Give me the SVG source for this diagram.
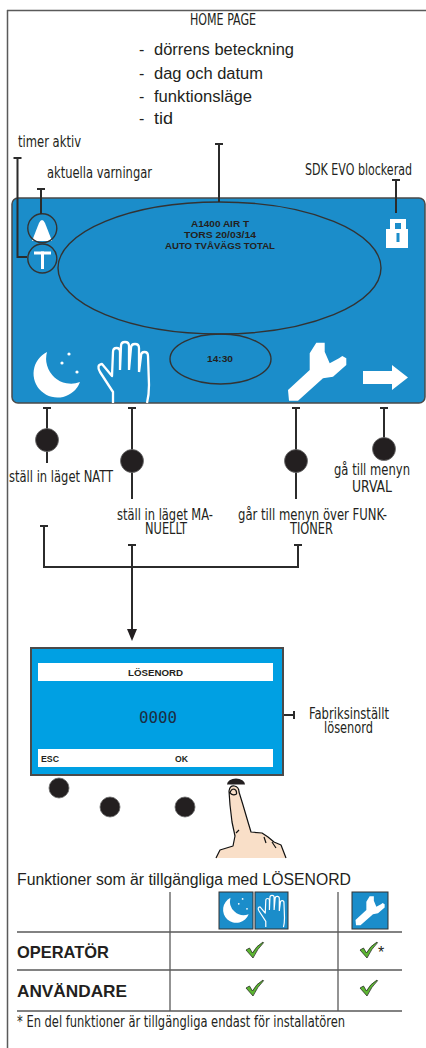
<svg xmlns="http://www.w3.org/2000/svg" width="426" height="1048" viewBox="0 0 426 1048">
  <style>
    .lbl { font-family: "Liberation Sans Narrow", "DejaVu Sans Condensed", "Liberation Sans", sans-serif; font-stretch: condensed; font-size: 15px; fill: #231f20; }
    .reg { font-family: "Liberation Sans", "Open Sans", sans-serif; font-size: 16px; fill: #231f20; }
    .bold { font-family: "Liberation Sans", "Open Sans", sans-serif; font-weight: bold; fill: #231f20; }
    .lcd { font-family: "Liberation Sans", sans-serif; font-weight: bold; font-size: 9px; fill: #231f20; }
    .wire { stroke: #2b2b2b; stroke-width: 2; fill: none; }
    .grid { stroke: #5a5a5a; stroke-width: 1.3; fill: none; }
    .dot { fill: #231f20; stroke: #6a6a6a; stroke-width: 0.8; }
    .ring { fill: none; stroke: #333; stroke-width: 1.4; }
    .iconbox { fill: #1b8dca; stroke: #333; stroke-width: 1; }
    .check { fill: #5cb531; stroke: #1a1a1a; stroke-width: 0.7; stroke-linejoin: round; }
  </style>
  <defs>
    <!-- crescent moon with three stars, drawn around (57,376) -->
    <g id="moon" fill="#fff">
      <path d="M47,352 A24,24 0 1 0 80,382 A25,25 0 0 1 47,352 Z"/>
      <circle cx="69" cy="354" r="1.6"/>
      <circle cx="62" cy="363" r="1.6"/>
      <circle cx="77" cy="372" r="1.6"/>
    </g>
    <!-- open hand outline -->
    <path id="hand" fill="none" stroke="#fff" stroke-width="2.3" stroke-linejoin="round"
      d="M113,403 L113,392 L100,372 Q96,365 102,364 L112,376 L113,352 Q113,348 116.5,348 Q120,348 120,352 L120,370 M120,370 L121,346 Q121,342 125,342 Q129,342 129,346 L129,370 M129,370 L131,348 Q131,344 135,344 Q139,344 139,348 L139,372 M139,372 L141,356 Q141,352 144.5,352 Q148,352 148,356 L149,385 Q149,395 147,403"/>
    <!-- wrench -->
    <polygon id="wrench" fill="#fff"
      points="316.3,342.7 324.7,342.7 324.7,351.7 329.7,363.3 339,358.3 342.3,356 346.3,358.3 346.3,365 333,376.7 323,378.3 298,400.7 289,400.7 288,390 309.7,370 309.7,353.3"/>
    <path id="chk" d="M0,8 L3.5,6 L6.5,11 Q10,4 17,0 L17.5,0.8 Q11.5,6.5 7,16 Z"/>
  </defs>

  <!-- page frame -->
  <path d="M7,10.5 H426 M7.5,10 V1048" stroke="#5a5a5a" stroke-width="1.5" fill="none"/>

  <!-- title and content list -->
  <g id="home-title">
    <text class="lbl" x="190" y="25" textLength="66" lengthAdjust="spacingAndGlyphs">HOME PAGE</text>
  </g>
  <g id="home-contents">
    <text class="reg" x="139" y="55">-</text>
    <text class="reg" x="154" y="55" textLength="140" lengthAdjust="spacingAndGlyphs">dörrens beteckning</text>
    <text class="reg" x="139" y="79">-</text>
    <text class="reg" x="154" y="79" textLength="109" lengthAdjust="spacingAndGlyphs">dag och datum</text>
    <text class="reg" x="139" y="102">-</text>
    <text class="reg" x="154" y="102" textLength="98" lengthAdjust="spacingAndGlyphs">funktionsläge</text>
    <text class="reg" x="139" y="124">-</text>
    <text class="reg" x="154" y="124" textLength="19" lengthAdjust="spacingAndGlyphs">tid</text>
  </g>

  <!-- callout labels above the display -->
  <g id="label-timer">
    <text class="lbl" x="18" y="147" textLength="63" lengthAdjust="spacingAndGlyphs">timer aktiv</text>
  </g>
  <g id="label-warnings">
    <text class="lbl" x="47" y="178" textLength="105" lengthAdjust="spacingAndGlyphs">aktuella varningar</text>
  </g>
  <g id="label-locked">
    <text class="lbl" x="305" y="175" textLength="107" lengthAdjust="spacingAndGlyphs">SDK EVO blockerad</text>
  </g>

  <!-- home page display -->
  <g id="home-display">
    <rect x="12" y="198" width="413" height="205" rx="6" fill="#1b8dca" stroke="#4a4a4a" stroke-width="1.5"/>
    <ellipse cx="219.5" cy="268" rx="161.5" ry="66" class="ring"/>
    <ellipse cx="220.5" cy="359" rx="50.5" ry="25" class="ring"/>
    <text class="lcd" x="220" y="226.5" text-anchor="middle" textLength="58" lengthAdjust="spacingAndGlyphs">A1400 AIR T</text>
    <text class="lcd" x="220" y="237.5" text-anchor="middle" textLength="72" lengthAdjust="spacingAndGlyphs">TORS 20/03/14</text>
    <text class="lcd" x="220" y="248.5" text-anchor="middle" textLength="110" lengthAdjust="spacingAndGlyphs">AUTO TVÅVÄGS TOTAL</text>
    <text class="lcd" x="220" y="361.5" text-anchor="middle" textLength="26" lengthAdjust="spacingAndGlyphs">14:30</text>
  </g>
  <g id="icon-warning">
    <path d="M42,220 Q43.5,220 45,223 L52,241 L32,241 L39,223 Q40.5,220 42,220 Z" fill="#fff"/>
    <circle cx="42.3" cy="228.3" r="14.5" class="ring"/>
  </g>
  <g id="icon-timer">
    <rect x="34" y="251.5" width="17" height="3" fill="#fff"/>
    <rect x="41" y="251.5" width="3" height="17.5" fill="#fff"/>
    <circle cx="42.3" cy="258.5" r="14.5" class="ring"/>
  </g>
  <g id="icon-lock">
    <path fill="#fff" fill-rule="evenodd" d="M390,219 H406 V229 H390 Z M395,223 V229 H401 V223 Z"/>
    <path fill="#fff" fill-rule="evenodd" d="M386,229 H408 V248 H386 Z M396.5,233 V242 H399.5 V233 Z"/>
  </g>
  <g id="key-night"><use href="#moon"/></g>
  <g id="key-manual"><use href="#hand"/></g>
  <g id="key-functions"><use href="#wrench"/></g>
  <g id="key-menu">
    <polygon fill="#fff" points="363,371 392,371 392,365 408,377.5 392,390 392,384 363,384"/>
  </g>

  <!-- connectors -->
  <g id="connectors">
    <!-- callouts above the display -->
    <path class="wire" d="M17.5,158 V257 H27 M13.5,158 H21.5"/>
    <path class="wire" d="M41,189 V214 M37,189 H45"/>
    <path class="wire" d="M219,144 V202 M215,144 H223"/>
    <path class="wire" d="M396,180 V213 M392,180 H400"/>
    <!-- key callouts below the display -->
    <path class="wire" d="M47,408 V463 M43,408 H51"/>
    <path class="wire" d="M132,408 V499 M128,408 H136"/>
    <path class="wire" d="M296,408 V499 M292,408 H300"/>
    <path class="wire" d="M384,408 V443 M380,408 H388"/>
    <circle class="dot" cx="47" cy="440" r="11.5"/>
    <circle class="dot" cx="132" cy="461" r="11.5"/>
    <circle class="dot" cx="296" cy="461" r="11.5"/>
    <circle class="dot" cx="384" cy="449" r="11.5"/>
    <!-- collecting bracket and arrow to password screen -->
    <path class="wire" d="M44,526 V567 H298 V545 M40,526 H48 M294,545 H302"/>
    <path class="wire" d="M132,545 V631 M128,545 H136"/>
    <polygon points="127,629 137,629 132,641" fill="#231f20"/>
    <!-- factory password pointer -->
    <path class="wire" d="M238,715 H294 M294,711 V719"/>
    <polygon points="228,715 240,710.5 240,719.5" fill="#231f20"/>
  </g>

  <!-- key labels -->
  <g id="label-night">
    <text class="lbl" x="9" y="482" textLength="104" lengthAdjust="spacingAndGlyphs">ställ in läget NATT</text>
  </g>
  <g id="label-manual">
    <text class="lbl" x="117" y="520" textLength="96" lengthAdjust="spacingAndGlyphs">ställ in läget MA-</text>
    <text class="lbl" x="145" y="534" textLength="42" lengthAdjust="spacingAndGlyphs">NUELLT</text>
  </g>
  <g id="label-functions">
    <text class="lbl" x="238" y="520" textLength="149" lengthAdjust="spacingAndGlyphs">går till menyn över FUNK-</text>
    <text class="lbl" x="290" y="534" textLength="43" lengthAdjust="spacingAndGlyphs">TIONER</text>
  </g>
  <g id="label-menu">
    <text class="lbl" x="334" y="475" textLength="76" lengthAdjust="spacingAndGlyphs">gå till menyn</text>
    <text class="lbl" x="352" y="492" textLength="40" lengthAdjust="spacingAndGlyphs">URVAL</text>
  </g>

  <!-- password screen -->
  <g id="password-screen">
    <rect x="31" y="648" width="252" height="127" fill="#00a0e3" stroke="#4a4a4a" stroke-width="2"/>
    <rect x="38" y="663" width="235" height="18" fill="#fff"/>
    <rect x="38" y="749" width="235" height="18" fill="#fff"/>
    <text class="bold" x="155.5" y="676" font-size="9" text-anchor="middle" textLength="55" lengthAdjust="spacingAndGlyphs">LÖSENORD</text>
    <text x="158" y="723" font-family="DejaVu Sans Mono, Liberation Mono, monospace" font-size="15" fill="#1a2d44" text-anchor="middle" textLength="38" lengthAdjust="spacingAndGlyphs">0000</text>
    <text class="bold" x="41" y="762" font-size="9" textLength="18" lengthAdjust="spacingAndGlyphs">ESC</text>
    <text class="bold" x="175" y="762" font-size="9" textLength="13" lengthAdjust="spacingAndGlyphs">OK</text>
  </g>
  <g id="label-factory">
    <text class="lbl" x="309" y="719" textLength="80" lengthAdjust="spacingAndGlyphs">Fabriksinställt</text>
    <text class="lbl" x="324" y="733" textLength="49" lengthAdjust="spacingAndGlyphs">lösenord</text>
  </g>
  <g id="keypad">
    <circle class="dot" cx="59" cy="788" r="10"/>
    <circle class="dot" cx="110" cy="807" r="10"/>
    <circle class="dot" cx="185" cy="807" r="10"/>
    <path d="M227,784.5 A9,6 0 0 1 245,784.5 Z" fill="#231f20"/>
  </g>
  <g id="pointing-finger">
    <path fill="#f9dfc8" d="M229,791 Q230,785 234.5,786 Q239,787 239,792 L243,805 L248,822 L251,832 L262,833 L268,837 L274,842 L281,845 L286,858 L216,858 L220,850 L233,846 L235,836 L232,822 L230,805 Z"/>
    <path fill="none" stroke="#111" stroke-width="1.2" stroke-linejoin="round" d="M216,858 L220,850 L233,846 L235,836 L232,822 L230,805 L229,791 Q230,785 234.5,786 Q239,787 239,792 L243,805 L248,822 L251,832 L262,833 L268,837 L274,842 L281,845 L286,858 M230,793 Q231,789 234,789 Q237,790 236.5,794 Q233,796 230,793 M236,833 L239,830 M264,837 L266,843 M272,842 L276,848"/>
  </g>

  <!-- access table -->
  <g id="access-table">
    <text class="reg" x="17" y="885" textLength="334" lengthAdjust="spacingAndGlyphs">Funktioner som är tillgängliga med LÖSENORD</text>
    <path class="grid" d="M17,932 H402 M17,970 H402 M17,1011 H402 M170,892 V1011 M338,892 V1011"/>
    <rect class="iconbox" x="219" y="892" width="34" height="37"/>
    <rect class="iconbox" x="255" y="892" width="33" height="37"/>
    <rect class="iconbox" x="352" y="892" width="36" height="37"/>
    <use href="#moon" transform="translate(236,911) scale(0.55) translate(-57,-376)"/>
    <use href="#hand" transform="translate(271.5,911) scale(0.52) translate(-124,-372)"/>
    <use href="#wrench" transform="translate(370,911) scale(0.5) translate(-317,-372)"/>
    <text class="bold" x="17" y="958" font-size="16.5" textLength="92" lengthAdjust="spacingAndGlyphs">OPERATÖR</text>
    <text class="bold" x="17" y="997" font-size="16.5" textLength="110" lengthAdjust="spacingAndGlyphs">ANVÄNDARE</text>
    <use href="#chk" class="check" transform="translate(246,942)"/>
    <use href="#chk" class="check" transform="translate(360,942)"/>
    <text class="reg" x="378" y="958" font-size="7">*</text>
    <use href="#chk" class="check" transform="translate(246,980)"/>
    <use href="#chk" class="check" transform="translate(360,980)"/>
    <text class="lbl" x="17" y="1027" textLength="328" lengthAdjust="spacingAndGlyphs">* En del funktioner är tillgängliga endast för installatören</text>
  </g>
</svg>
